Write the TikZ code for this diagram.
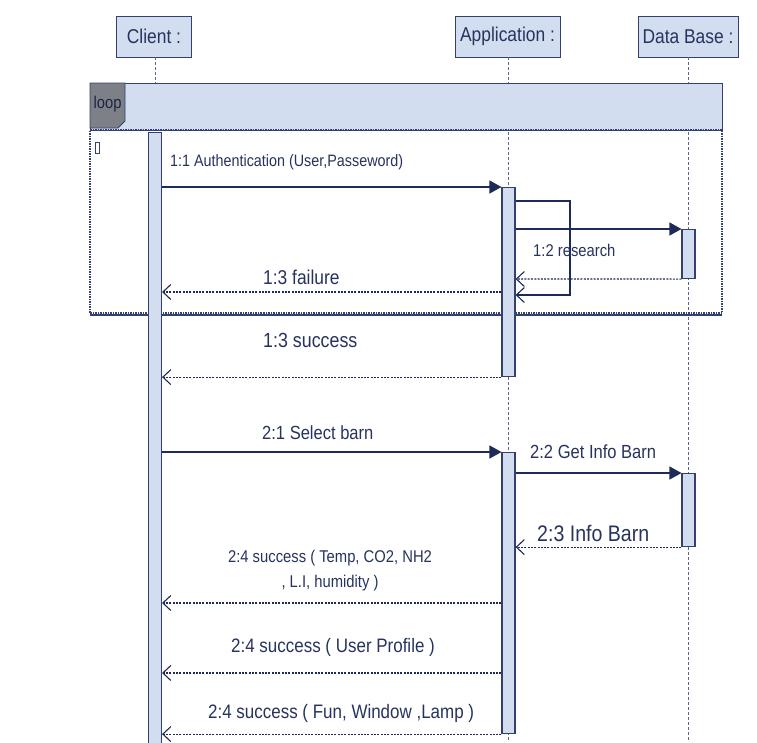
\documentclass[tikz,border=0pt]{standalone}
\usepackage{fontspec}
\setmainfont{Liberation Sans}[FakeStretch=0.87]
\usetikzlibrary{arrows.meta}
\definecolor{fillb}{HTML}{D3DDF0}
\definecolor{edgec}{HTML}{34416F}
\definecolor{txt}{HTML}{27335F}
\definecolor{arr}{HTML}{1E2A5A}
\definecolor{tabc}{HTML}{7D8087}
\definecolor{lifec}{HTML}{5A6690}
\tikzset{
  x=1pt,y=-1pt,
  head/.style={draw=edgec,fill=fillb,line width=0.9pt,minimum height=41pt,inner sep=0pt,text=txt,font=\fontsize{20}{22}\selectfont},
  act/.style={draw=edgec,fill=fillb,line width=1.1pt,minimum width=13pt,inner sep=0pt,anchor=north},
  life/.style={draw=lifec,line width=0.7pt,dash pattern=on 3pt off 2pt},
  call/.style={draw=arr,line width=1.3pt,-{Triangle[length=12pt,width=13pt]}},
  ret/.style={draw=arr,line width=1.2pt,dash pattern=on 2pt off 1.3pt,-{Straight Barb[length=8pt,width=15pt,line width=1.1pt]}},
  selfc/.style={draw=arr,line width=1.3pt,-{Straight Barb[length=8pt,width=15pt,line width=1.1pt]}},
  lbl/.style={text=txt,inner sep=0pt,anchor=west},
}
\begin{document}
\begin{tikzpicture}
\useasboundingbox[fill=white] (0,0) rectangle (757,742);
% heads
\node[head,minimum width=75pt] (cl) at (154,36.5) {Client :};
\node[head,minimum width=105pt] (ap) at (507.5,36.5) {Application :};
\node[head,minimum width=100pt] (db) at (688,36.5) {Data Base :};
% lifelines
\coordinate (clend) at (155,742);
\coordinate (apend) at (508.5,742);
\coordinate (dbend) at (688.5,742);
\draw[life] (cl.south -| clend) -- (clend);
\draw[life] (ap.south -| apend) -- (apend);
\draw[life] (db.south -| dbend) -- (dbend);
% loop frame
\path[fill=fillb,draw=edgec,line width=1pt] (90,83) rectangle (722,130);
\path[fill=tabc,draw=edgec,line width=0.8pt] (90,83) -- (125,83) -- (125,121) -- (118,128) -- (90,128) -- cycle;
\node[text=txt!70!black,font=\fontsize{17}{19}\selectfont,inner sep=0pt] (looplbl) at (107.5,104) {loop};
\draw[draw=edgec,line width=1.3pt,dash pattern=on 1.5pt off 1pt] (90,130) -- (722,130) -- (722,313) -- (90,313) -- cycle;
\draw[draw=edgec,line width=1.5pt] (90,315) -- (722,315);
\draw[draw=edgec,line width=0.8pt] (95,142) rectangle (99,153);
% activations
\node[act,minimum height=620pt] (acl) at (155,132) {};
\node[act,minimum height=189pt] (aap1) at (508.5,187) {};
\node[act,minimum height=281pt] (aap2) at (508.5,452) {};
\node[act,minimum height=49pt] (adb1) at (688.5,229) {};
\node[act,minimum height=73pt] (adb2) at (688.5,473) {};
% 1:1
\draw[call] (acl.east |- 0,187) -- (aap1.north west);
\node[lbl,font=\fontsize{16.5}{18}\selectfont] (m11) at (170,162) {1:1 Authentication (User,Passeword)};
% self loop
\coordinate (sl1) at (570,201);
\coordinate (sl2) at (570,295);
\draw[selfc] (aap1.east |- 0,201) -- (sl1) -- (sl2) -- (aap1.east |- sl2);
% 1:2
\draw[call] (aap1.east |- adb1.north) -- (adb1.north west);
\node[lbl,font=\fontsize{17}{19}\selectfont] (m12) at (533,250) {1:2 research};
\draw[ret] (adb1.south west) -- (aap1.east |- 0,279);
% 1:3 failure
\draw[ret] (aap1.west |- 0,292) -- (acl.east |- 0,292);
\node[lbl,font=\fontsize{20}{22}\selectfont] (m13f) at (263,277) {1:3 failure};
% 1:3 success
\draw[ret] (aap1.south west) -- (acl.east |- aap1.south);
\node[lbl,font=\fontsize{20.5}{22}\selectfont] (m13s) at (263,340) {1:3 success};
% 2:1
\draw[call] (acl.east |- aap2.north) -- (aap2.north west);
\node[lbl,font=\fontsize{19}{21}\selectfont] (m21) at (262,433) {2:1 Select barn};
% 2:2
\draw[call] (aap2.east |- adb2.north) -- (adb2.north west);
\node[lbl,font=\fontsize{19}{21}\selectfont] (m22) at (530,452) {2:2 Get Info Barn};
% 2:3
\draw[ret] (adb2.south west) -- (aap2.east |- adb2.south);
\node[lbl,font=\fontsize{22.5}{24}\selectfont] (m23) at (537,533) {2:3 Info Barn};
% 2:4 a
\draw[ret] (aap2.west |- 0,603) -- (acl.east |- 0,603);
\node[text=txt,inner sep=0pt,align=center,font=\fontsize{17}{25}\selectfont] (m24a) at (330,571) {2:4 success ( Temp, CO2, NH2\\, L.I, humidity )};
% 2:4 b
\draw[ret] (aap2.west |- 0,673) -- (acl.east |- 0,673);
\node[lbl,font=\fontsize{19.5}{21}\selectfont] (m24b) at (231,647) {2:4 success ( User Profile )};
% 2:4 c
\draw[ret] (aap2.south west) -- (acl.east |- aap2.south);
\node[lbl,font=\fontsize{19.5}{21}\selectfont] (m24c) at (208,713) {2:4 success ( Fun, Window ,Lamp )};
\end{tikzpicture}
\end{document}
